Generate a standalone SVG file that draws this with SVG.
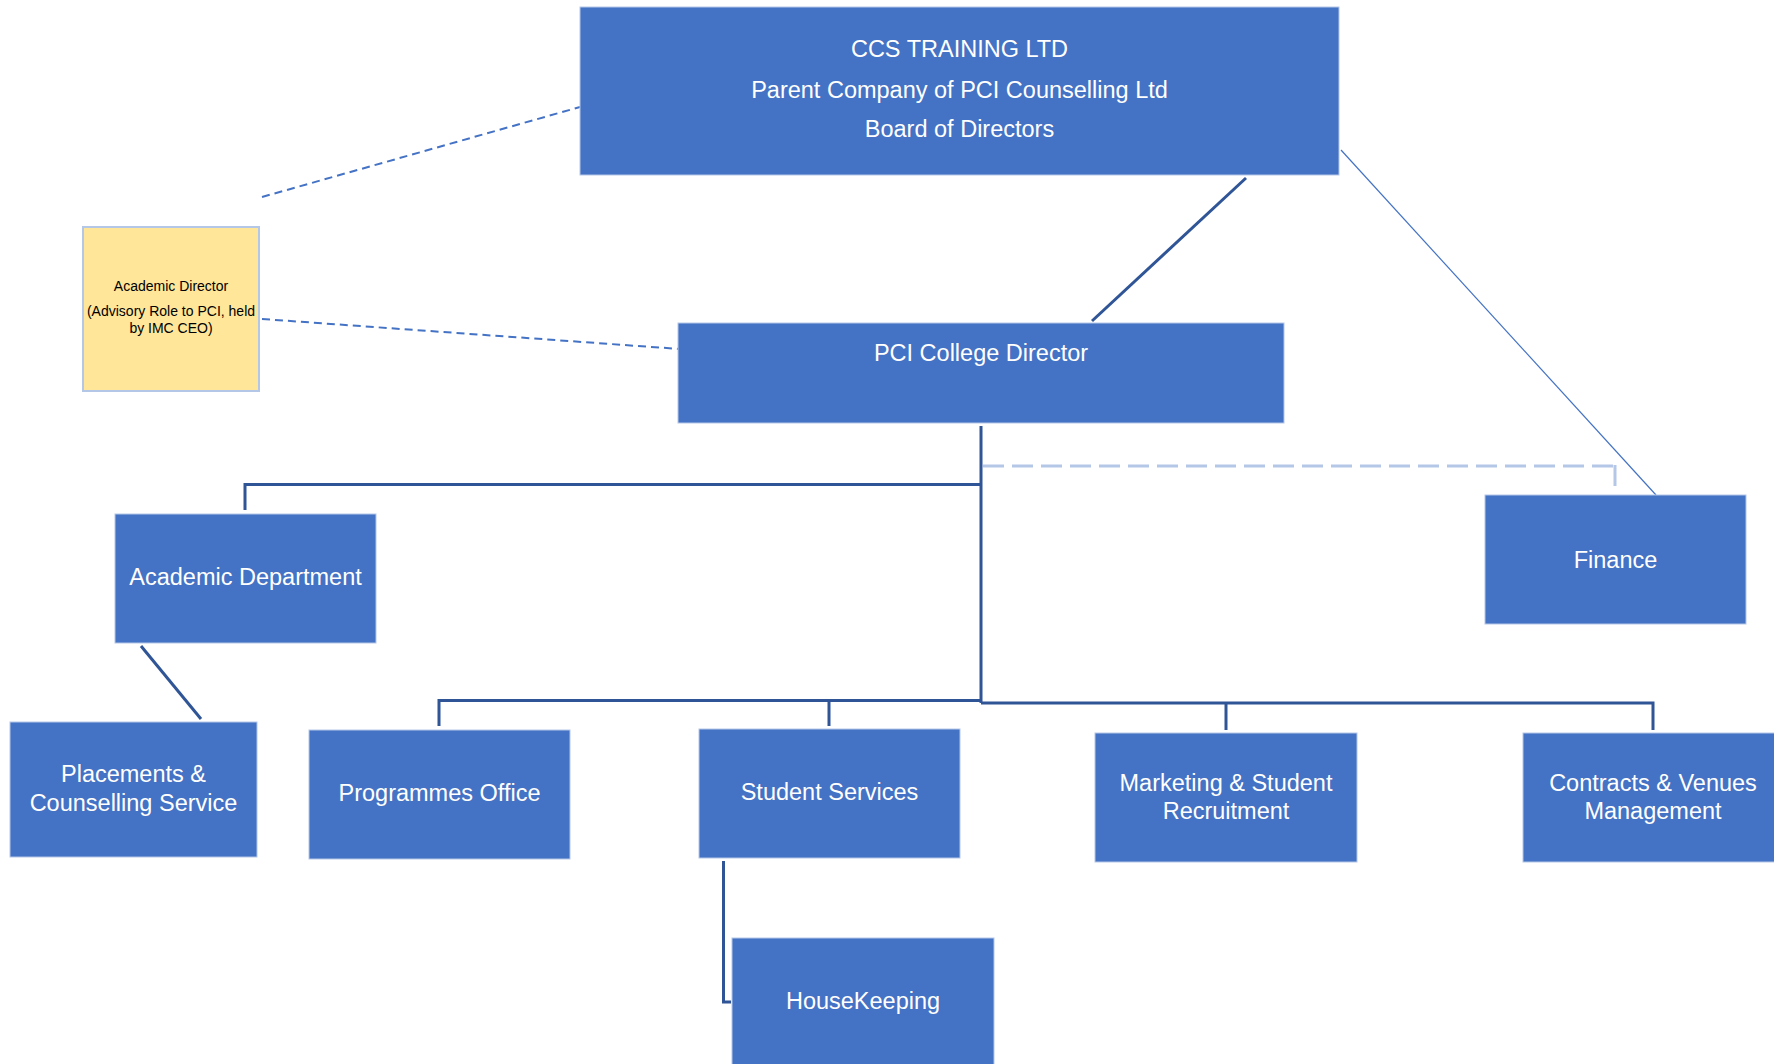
<svg xmlns="http://www.w3.org/2000/svg" width="1774" height="1064" viewBox="0 0 1774 1064">
<style>
.box{fill:#4472c4;stroke:#b4c7e7;stroke-width:1}
.t{font-family:"Liberation Sans",Arial,sans-serif;font-size:23.5px;fill:#ffffff;text-anchor:middle}
.ty{font-family:"Liberation Sans",Arial,sans-serif;font-size:14px;fill:#000000;text-anchor:middle}
.solid{fill:none;stroke:#2f5597;stroke-width:3}
.thin{fill:none;stroke:#4472c4;stroke-width:1.2}
.dash{fill:none;stroke:#4472c4;stroke-width:2;stroke-dasharray:8 5}
.ldash{fill:none;stroke:#b4c7e7;stroke-width:3;stroke-dasharray:21 8}
</style>
<rect width="1774" height="1064" fill="#ffffff"/>
<g id="connectors">
<line class="dash" x1="262" y1="197" x2="580" y2="107"/>
<line class="dash" x1="262" y1="319" x2="680" y2="349"/>
<line class="solid" x1="1246" y1="178" x2="1092" y2="321"/>
<line class="thin" x1="1341" y1="150" x2="1656" y2="495"/>
<line class="solid" x1="981" y1="426" x2="981" y2="703"/>
<polyline class="ldash" points="983,466 1615,466"/>
<line x1="1615" y1="465" x2="1615" y2="486" stroke="#b4c7e7" stroke-width="3"/>
<polyline class="solid" points="981,484.5 245,484.5 245,510"/>
<line class="solid" x1="141" y1="646" x2="201" y2="719"/>
<polyline class="solid" points="439,726 439,700.5 981,700.5"/>
<line class="solid" x1="829" y1="700" x2="829" y2="726"/>
<polyline class="solid" points="981,703 1653,703 1653,730"/>
<line class="solid" x1="1226" y1="703" x2="1226" y2="730"/>
<polyline class="solid" points="723.5,861 723.5,1002 731,1002"/>
</g>
<g id="board">
<rect class="box" x="580" y="7" width="759" height="168"/>
<text class="t" x="959.5" y="57">CCS TRAINING LTD</text>
<text class="t" x="959.5" y="98">Parent Company of PCI Counselling Ltd</text>
<text class="t" x="959.5" y="137">Board of Directors</text>
</g>
<g id="academic-director">
<rect x="83" y="227" width="176" height="164" fill="#ffe699" stroke="#b4c7e7" stroke-width="2"/>
<text class="ty" x="171" y="291">Academic Director</text>
<text class="ty" x="171" y="316">(Advisory Role to PCI, held</text>
<text class="ty" x="171" y="333">by IMC CEO)</text>
</g>
<g id="pci-director">
<rect class="box" x="678" y="323" width="606" height="100"/>
<text class="t" x="981" y="360.5">PCI College Director</text>
</g>
<g id="finance">
<rect class="box" x="1485" y="495" width="261" height="129"/>
<text class="t" x="1615.5" y="567.5">Finance</text>
</g>
<g id="academic-department">
<rect class="box" x="115" y="514" width="261" height="129"/>
<text class="t" x="245.5" y="585">Academic Department</text>
</g>
<g id="placements">
<rect class="box" x="10" y="722" width="247" height="135"/>
<text class="t" x="133.5" y="782">Placements &amp;</text>
<text class="t" x="133.5" y="811">Counselling Service</text>
</g>
<g id="programmes-office">
<rect class="box" x="309" y="730" width="261" height="129"/>
<text class="t" x="439.5" y="800.5">Programmes Office</text>
</g>
<g id="student-services">
<rect class="box" x="699" y="729" width="261" height="129"/>
<text class="t" x="829.5" y="799.5">Student Services</text>
</g>
<g id="marketing">
<rect class="box" x="1095" y="733" width="262" height="129"/>
<text class="t" x="1226" y="790.5">Marketing &amp; Student</text>
<text class="t" x="1226" y="818.5">Recruitment</text>
</g>
<g id="contracts">
<rect class="box" x="1523" y="733" width="260" height="129"/>
<text class="t" x="1653" y="790.5">Contracts &amp; Venues</text>
<text class="t" x="1653" y="818.5">Management</text>
</g>
<g id="housekeeping">
<rect class="box" x="732" y="938" width="262" height="140"/>
<text class="t" x="863" y="1008.5">HouseKeeping</text>
</g>
</svg>
